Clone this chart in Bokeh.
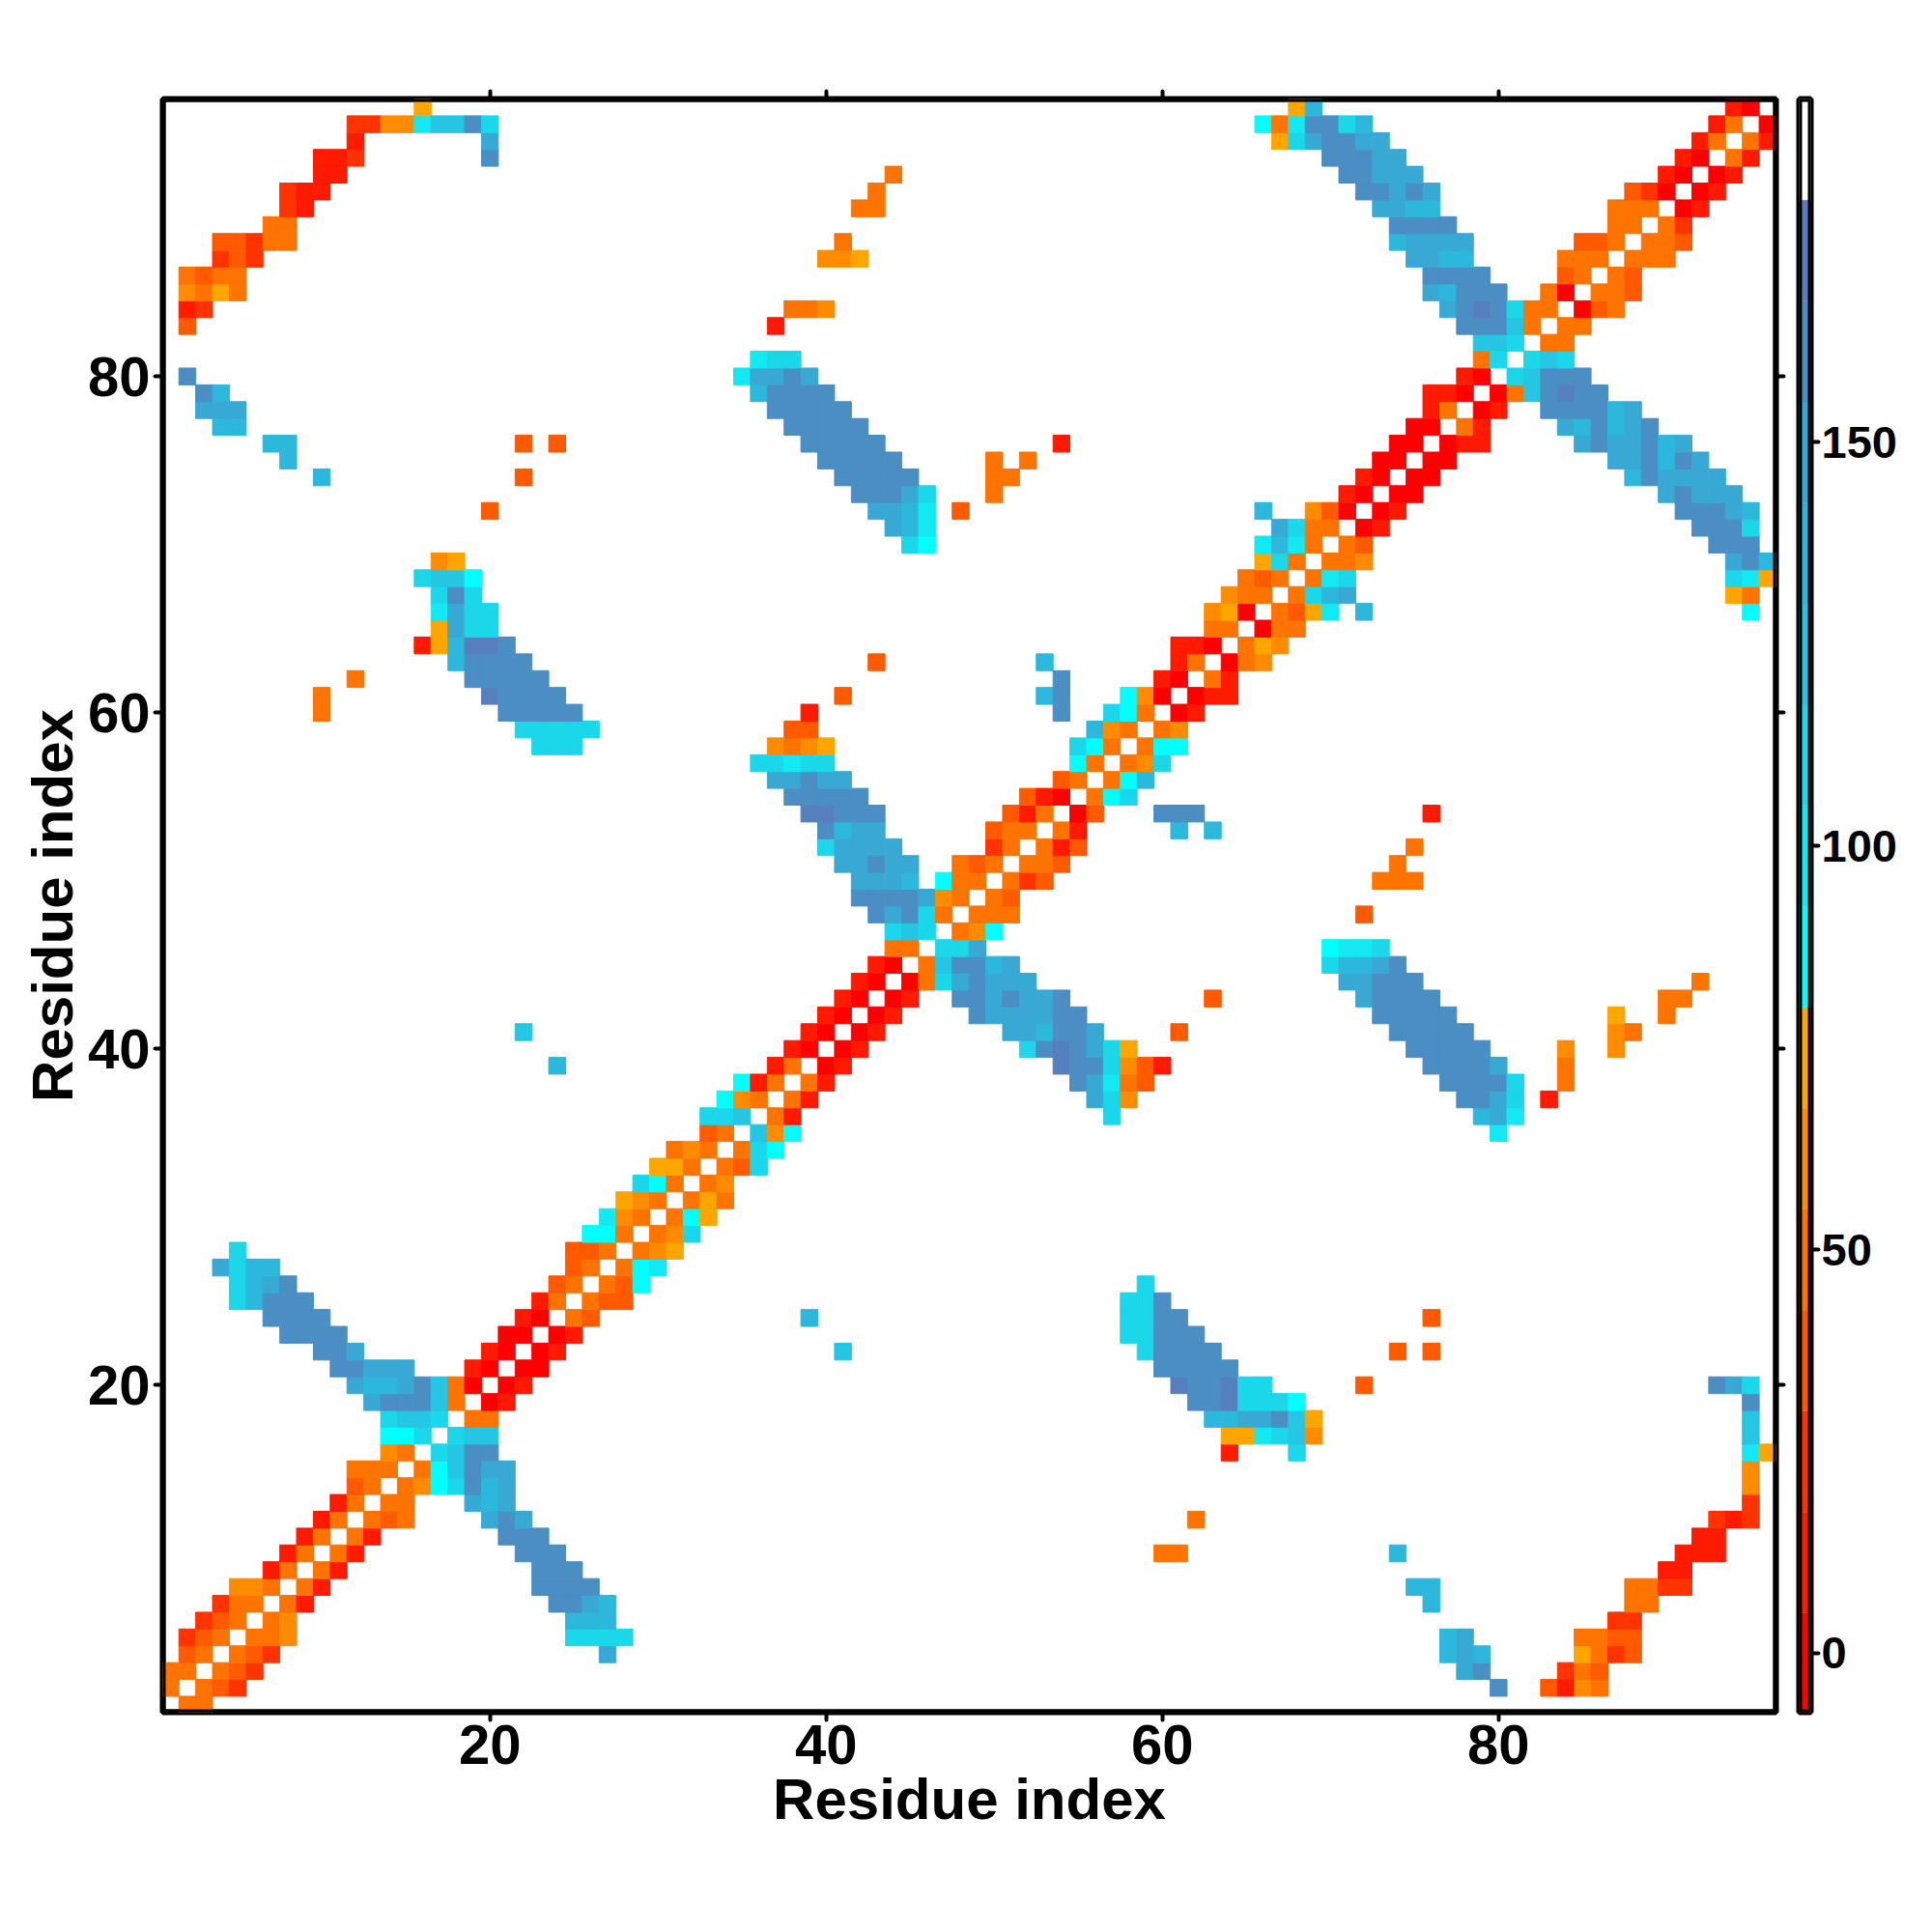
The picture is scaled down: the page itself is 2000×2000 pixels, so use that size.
from bokeh.embed import file_html
from bokeh.layouts import row
from bokeh.models import BoxAnnotation, ColumnDataSource, FixedTicker, LinearAxis, LinearColorMapper, Range1d
from bokeh.plotting import figure
from bokeh.resources import INLINE

# colour levels of the angle scale, edges and one colour per bin
level_edges = [-7.5, 5, 17.5, 30, 42.5, 55, 67.5, 80, 92.5, 105, 117.5, 130, 142.5, 155, 167.5, 180, 192.5]
level_colors = ["#ff0000", "#ff1a00", "#ff3300", "#ff5a00", "#ff7300", "#ff8c00", "#ffa500", "#00ffff",
                "#12e9f3", "#1bd7ea", "#24c6e3", "#2cb8dc", "#38a9d5", "#4b8ec3", "#5680bd", "#ffffff"]
axis_ticks = [20, 40, 60, 80]
bar_ticks = [0, 50, 100, 150]

# values, one per colour bin
A, B, C, D, E, F, G = -1, 11, 24, 36, 49, 61, 74
H, I, J, M, K, L, N, O = 86, 99, 111, 124, 136, 149, 161, 174

# the map is symmetric so only x < y is listed: row_y = [(first x, [values]), ...]
row_02 = [(1, [E])]
row_03 = [(1, [E, E])]
row_04 = [(2, [D, E])]
row_05 = [(2, [C, D, E])]
row_06 = [(3, [C, D, E])]
row_07 = [(4, [C, E, E])]
row_08 = [(5, [F, F, E])]
row_09 = [(7, [B, E])]
row_10 = [(8, [B, E])]
row_11 = [(9, [B, E])]
row_12 = [(10, [B, E])]
row_13 = [(11, [B, E])]
row_14 = [(12, [D, E])]
row_15 = [(12, [E, E, E])]
row_16 = [(14, [F, E])]
row_17 = [(14, [H, H, J])]
row_18 = [(14, [J, M, M, J])]
row_19 = [(13, [L, N, N, N, M, E])]
row_20 = [(12, [L, K, K, L, N, M, E, A])]
row_21 = [(11, [N, N, L, L, L]), (19, [B, A])]
row_22 = [(10, [N, N, L]), (20, [B, A])]
row_23 = [(8, [N, N, N, N]), (21, [A, A])]
row_24 = [(7, [N, N, N, N]), (22, [B, A])]
row_25 = [(5, [J, K, N, N, N]), (23, [B, E])]
row_26 = [(5, [J, K, L, N]), (24, [D, E])]
row_27 = [(4, [L, J, K, K]), (25, [D, E])]
row_28 = [(5, [J]), (25, [D, D, E])]
row_29 = [(26, [H, H, E])]
row_30 = [(27, [I, F, E])]
row_31 = [(28, [G, F, E])]
row_32 = [(29, [J, H, E])]
row_33 = [(30, [G, G, E])]
row_34 = [(31, [E, F, E])]
row_35 = [(33, [D, E])]
row_36 = [(33, [J, J, M])]
row_37 = [(34, [H, F, E])]
row_38 = [(35, [H, B, E])]
row_39 = [(24, [K]), (37, [B, E])]
row_40 = [(38, [B, A])]
row_41 = [(22, [M]), (39, [B, A])]
row_42 = [(40, [B, A])]
row_43 = [(41, [B, A])]
row_44 = [(42, [B, A])]
row_45 = [(43, [B, A])]
row_46 = [(44, [E, E])]
row_47 = [(44, [J, M, J])]
row_48 = [(43, [N, L, N, J, E])]
row_49 = [(42, [N, N, N, N, L, F, E])]
row_50 = [(42, [L, L, L, K]), (47, [H, E, E])]
row_51 = [(41, [L, L, N, L, L]), (48, [E, D, E])]
row_52 = [(40, [J, L, L, L, L]), (50, [C, E])]
row_53 = [(40, [N, K, L, L]), (50, [D, E, E])]
row_54 = [(39, [O, O, N, N, N]), (51, [D, B, E])]
row_55 = [(38, [N, N, N, N, N]), (52, [D, B, A])]
row_56 = [(37, [L, L, N, L, L]), (54, [D, E])]
row_57 = [(36, [J, J, I, J, J]), (55, [H, E])]
row_58 = [(23, [J, J, J]), (37, [F, E, F, G]), (55, [J, H, E])]
row_59 = [(22, [J, J, J, J, J]), (38, [D, D]), (56, [K, F, E])]
row_60 = [(10, [E]), (21, [N, N, N, N, N]), (39, [B]), (54, [N]), (57, [J, H, E])]
row_61 = [(10, [E]), (20, [O, N, N, N, N]), (41, [D]), (53, [K, N]), (58, [H, F, A])]
row_62 = [(12, [E]), (19, [N, N, N, N, N]), (54, [N]), (60, [B, A])]
row_63 = [(18, [K, N, N, N, N]), (43, [D]), (53, [K]), (61, [B, E])]
row_64 = [(16, [B, G, K, O, O, N]), (61, [B, B, A])]
row_65 = [(17, [G, L, J, J]), (63, [E, E])]
row_66 = [(17, [I, L, J, J]), (63, [F, G, A])]
row_67 = [(17, [J, N, J]), (64, [F, E, E])]
row_68 = [(16, [J, M, M, H]), (65, [E, D, E])]
row_69 = [(17, [F, G]), (66, [G, J, E])]
row_70 = [(45, [J, H]), (66, [I, K, I, E])]
row_71 = [(44, [L, K, I]), (67, [L, J, E, E])]
row_72 = [(20, [D]), (43, [L, L, K, I]), (48, [D]), (66, [K]), (69, [F, D, A])]
row_73 = [(42, [N, N, N, L, J]), (50, [E]), (71, [B, A])]
row_74 = [(10, [K]), (22, [D]), (41, [N, N, N, N, N]), (50, [E, E]), (72, [B, A])]
row_75 = [(8, [K]), (40, [N, N, N, N, N]), (50, [E]), (52, [E]), (73, [A, A])]
row_76 = [(7, [K, K]), (22, [D]), (24, [D]), (39, [N, N, N, N, N]), (54, [B]), (74, [A, A])]
row_77 = [(4, [K, K]), (38, [N, N, N, N, N]), (75, [A, A])]
row_78 = [(3, [L, L, L]), (37, [N, N, N, N, N]), (76, [B, E])]
row_79 = [(3, [N, K]), (36, [K, N, N, N, N]), (76, [B, B, A])]
row_80 = [(2, [N]), (35, [I, L, L, N, L]), (78, [B, A])]
row_81 = [(36, [I, J, J]), (79, [E, J])]
row_82 = [(79, [M, M, J])]
row_83 = [(2, [D]), (37, [B]), (78, [N, N, N, M, E])]
row_84 = [(2, [B, C]), (38, [E, E, F]), (77, [L, N, O, N, J, E, E])]
row_85 = [(2, [F, E, G, E]), (76, [L, K, N, N, N]), (83, [E, A])]
row_86 = [(2, [E, D, E, E]), (76, [N, N, N, N]), (84, [D, E])]
row_87 = [(4, [C, D, C]), (40, [F, F, G]), (75, [L, L, K, K]), (84, [E, E, E])]
row_88 = [(4, [D, D, C, E, E]), (41, [E]), (74, [K, L, L, L, L]), (85, [D, D, E])]
row_89 = [(7, [E, E]), (74, [N, N, N, N]), (87, [E, E])]
row_90 = [(8, [C, B]), (42, [E, E]), (73, [L, L, K, K]), (87, [E, E, E])]
row_91 = [(8, [C, B, B]), (43, [E]), (72, [N, N, L, N, L]), (88, [D, C, A])]
row_92 = [(10, [B, B]), (44, [E]), (71, [N, N, L, L, L]), (90, [B, A])]
row_93 = [(10, [B, B, C]), (20, [N]), (70, [N, N, N, L, L]), (91, [B, A])]
row_94 = [(12, [B]), (20, [L]), (67, [G, J, L, N, N, L, L]), (92, [B, E])]
row_95 = [(12, [C, C, F, F, I, M, M, N, J]), (66, [H, E, I, N, N, J, K]), (93, [B, E])]
row_96 = [(16, [G]), (68, [G, K]), (94, [B, A])]

rows = {2: row_02, 3: row_03, 4: row_04, 5: row_05, 6: row_06, 7: row_07, 8: row_08, 9: row_09, 10: row_10,
        11: row_11, 12: row_12, 13: row_13, 14: row_14, 15: row_15, 16: row_16, 17: row_17, 18: row_18,
        19: row_19, 20: row_20, 21: row_21, 22: row_22, 23: row_23, 24: row_24, 25: row_25, 26: row_26,
        27: row_27, 28: row_28, 29: row_29, 30: row_30, 31: row_31, 32: row_32, 33: row_33, 34: row_34,
        35: row_35, 36: row_36, 37: row_37, 38: row_38, 39: row_39, 40: row_40, 41: row_41, 42: row_42,
        43: row_43, 44: row_44, 45: row_45, 46: row_46, 47: row_47, 48: row_48, 49: row_49, 50: row_50,
        51: row_51, 52: row_52, 53: row_53, 54: row_54, 55: row_55, 56: row_56, 57: row_57, 58: row_58,
        59: row_59, 60: row_60, 61: row_61, 62: row_62, 63: row_63, 64: row_64, 65: row_65, 66: row_66,
        67: row_67, 68: row_68, 69: row_69, 70: row_70, 71: row_71, 72: row_72, 73: row_73, 74: row_74,
        75: row_75, 76: row_76, 77: row_77, 78: row_78, 79: row_79, 80: row_80, 81: row_81, 82: row_82,
        83: row_83, 84: row_84, 85: row_85, 86: row_86, 87: row_87, 88: row_88, 89: row_89, 90: row_90,
        91: row_91, 92: row_92, 93: row_93, 94: row_94, 95: row_95, 96: row_96}

xs, ys, vals = [], [], []
for y, runs in rows.items():
    for first, values in runs:
        for k, v in enumerate(values):
            # mirror every cell across the diagonal
            xs += [first + k, y]
            ys += [y, first + k]
            vals += [v, v]

font = "Liberation Sans"
mapper = LinearColorMapper(palette=level_colors, low=level_edges[0], high=level_edges[-1])

p = figure(width=1852, height=1920, output_backend="svg", toolbar_location=None,
           x_range=Range1d(0.54, 96.5), y_range=Range1d(0.55, 96.5),
           min_border_left=168, min_border_right=14, min_border_top=102, min_border_bottom=148,
           background_fill_color="white", border_fill_color="white")
p.grid.visible = False
p.rect("x", "y", width=1, height=1, source=ColumnDataSource(dict(x=xs, y=ys, v=vals)),
       fill_color={"field": "v", "transform": mapper},
       line_color={"field": "v", "transform": mapper}, line_width=1)

p.add_layout(LinearAxis(), "above")
p.add_layout(LinearAxis(), "right")
for ax in p.axis:
    ax.ticker = FixedTicker(ticks=axis_ticks)
    ax.axis_line_color = None
    ax.minor_tick_line_color = None
    ax.major_tick_in = 0
    ax.major_tick_out = 8
    ax.major_tick_line_width = 4
    ax.major_tick_line_cap = "round"
    ax.major_label_text_font = font
    ax.major_label_text_font_style = "bold"
    ax.major_label_text_font_size = "58px"
    ax.major_label_text_color = "black"
    ax.major_label_standoff = 5
    ax.axis_label_text_font = font
    ax.axis_label_text_font_style = "bold"
    ax.axis_label_text_font_size = "60px"
    ax.axis_label_text_color = "black"
for ax in p.above + p.right:
    ax.major_label_text_font_size = "0px"
    ax.major_label_overrides = {t: "" for t in axis_ticks}
p.below[0].axis_label = "Residue index"
p.left[0].axis_label = "Residue index"
p.below[0].axis_label_standoff = 0
p.left[0].axis_label_standoff = 0
# outline gives the outer half of the frame, the box on top covers the cells with the inner half
p.outline_line_color = "black"
p.outline_line_width = 6
p.outline_line_alpha = 1
p.add_layout(BoxAnnotation(fill_color=None, line_color="black", line_width=6, line_alpha=1, level="overlay"))

# colour key as its own small figure
cb = figure(width=135, height=1920, output_backend="svg", toolbar_location=None,
            x_range=Range1d(0, 1), y_range=Range1d(-7.3, 192.5),
            min_border_left=10, min_border_right=113, min_border_top=102, min_border_bottom=148,
            y_axis_location="right", background_fill_color="white", border_fill_color="white")
cb.grid.visible = False
cb.xaxis.visible = False
cb.quad(left=0, right=1, bottom=level_edges[:-1], top=level_edges[1:], fill_color=level_colors,
        line_color=level_colors, line_width=0.3)
cb.yaxis.ticker = FixedTicker(ticks=bar_ticks)
cb.yaxis.axis_line_color = None
cb.yaxis.minor_tick_line_color = None
cb.yaxis.major_tick_in = 0
cb.yaxis.major_tick_out = 8
cb.yaxis.major_tick_line_width = 4
cb.yaxis.major_tick_line_cap = "round"
cb.yaxis.major_label_standoff = 3
cb.yaxis.major_label_text_font = font
cb.yaxis.major_label_text_font_style = "bold"
cb.yaxis.major_label_text_font_size = "47px"
cb.yaxis.major_label_text_color = "black"
cb.outline_line_color = "black"
cb.outline_line_width = 6
cb.outline_line_alpha = 1
cb.add_layout(BoxAnnotation(fill_color=None, line_color="black", line_width=6, line_alpha=1, level="overlay"))

page = row(p, cb, spacing=0)
open("out.html", "w").write(file_html(page, INLINE))
